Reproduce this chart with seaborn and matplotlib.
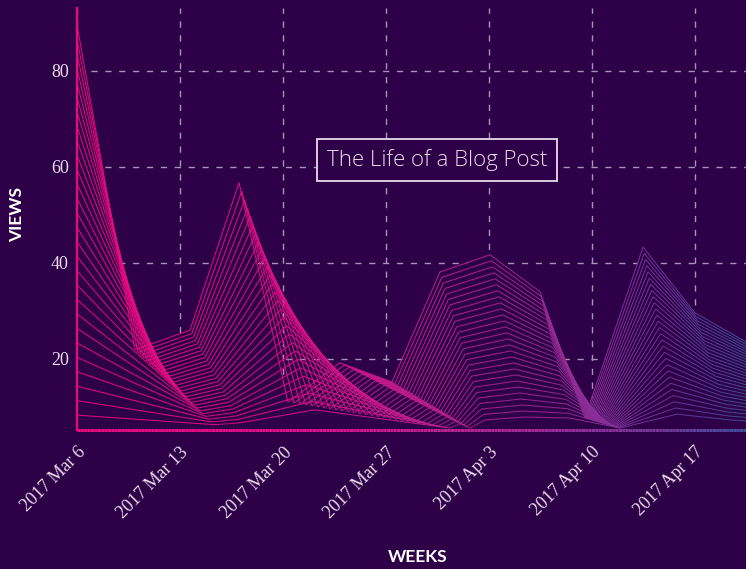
import numpy as np
import pandas as pd
import matplotlib
matplotlib.use("Agg")
import matplotlib.pyplot as plt
import matplotlib.dates as mdates
import seaborn as sns
from matplotlib.collections import LineCollection
from matplotlib.colors import LinearSegmentedColormap

# ---------------- data ----------------
start = pd.Timestamp("2017-03-06")
# outermost line of the family (days after Mar 6, views)
top_days = [0.0, 3.94, 7.68, 11.01, 14.34, 17.87, 21.41, 24.67, 28.07, 31.47, 34.52, 38.47, 42.0, 46.42]
top_views = [89.6, 21.9, 26.0, 56.7, 11.0, 19.2, 15.2, 38.1, 41.7, 34.0, 7.7, 43.3, 29.6, 21.9]
# innermost line of the family
bottom_days = [0.0, 9.38, 11.08, 16.17, 25.35, 26.03, 26.71, 27.73, 30.45, 33.5, 36.9, 40.78, 44.38, 48.46]
bottom_views = [8.3, 6.3, 6.7, 9.4, 5.6, 6.5, 5.6, 7.3, 7.9, 7.7, 5.6, 8.5, 7.3, 6.5]
n_lines = 28

week_labels = ["2017 Mar 6", "2017 Mar 13", "2017 Mar 20", "2017 Mar 27",
               "2017 Apr 3", "2017 Apr 10", "2017 Apr 17"]
y_ticks = [20, 40, 60, 80]
title = "The Life of a Blog Post"

# ---------------- styling ----------------
BG = "#2d0047"
GRID = "#a596b6"
TXT = "#eadcec"
PINK = "#e8087f"

sns.set_theme(style="dark", rc={"axes.facecolor": BG, "figure.facecolor": BG})

fig = plt.figure(figsize=(7.46, 5.69), dpi=100, facecolor=BG)
ax = fig.add_axes([77 / 746, 139 / 569, 669 / 746, 422 / 569])
ax.set_facecolor(BG)

# build the family of lines (morph from outer to inner line)
rows = []
td = np.array(top_days); tv = np.array(top_views)
bd = np.array(bottom_days); bv = np.array(bottom_views)
for k in range(n_lines):
    t = k / (n_lines - 1)
    d = td + (bd - td) * t
    v = tv + (bv - tv) * t
    for dd, vv in zip(d, v):
        rows.append({"line": k, "date": start + pd.to_timedelta(dd, unit="D"), "views": vv})
df = pd.DataFrame(rows)

sns.lineplot(data=df, x="date", y="views", units="line", estimator=None, sort=False,
             color=PINK, lw=0.7, legend=False, ax=ax, zorder=3)

x0 = mdates.date2num(start)
x1 = x0 + 45.47
ax.set_xlim(x0, x1)
ax.set_ylim(5.2, 93.1)

cmap = LinearSegmentedColormap.from_list(
    "grad", [(0.0, "#ea0a80"), (0.33, "#e0108a"), (0.56, "#b82490"),
             (0.77, "#8c2f98"), (0.9, "#663b98"), (1.0, "#3f509c")])

# recolour each seaborn line with a left-to-right gradient
for line in list(ax.get_lines()):
    xy = line.get_xydata()
    segs, cols = [], []
    for i in range(len(xy) - 1):
        p, q = xy[i], xy[i + 1]
        nsub = 24
        for j in range(nsub):
            a = p + (q - p) * j / nsub
            b = p + (q - p) * (j + 1) / nsub
            segs.append([a, b])
            cols.append(cmap(np.clip(((a[0] + b[0]) / 2 - x0) / (x1 - x0), 0, 1)))
    line.remove()
    lc = LineCollection(segs, colors=cols, linewidths=0.75, alpha=0.95, zorder=3,
                        capstyle="butt")
    ax.add_collection(lc)

# background fill below outer line hides the grid there
top_dates = [start + pd.to_timedelta(d, unit="D") for d in top_days]
ax.fill_between(top_dates, top_views, 0, color=BG, zorder=1.5, lw=0)

# grid
week_dates = [start + pd.Timedelta(days=7 * i) for i in range(len(week_labels))]
ax.set_xticks(week_dates)
ax.set_xticklabels(week_labels)
ax.set_yticks(y_ticks)
ax.grid(True, color=GRID, lw=1.0, ls=(0, (4.5, 5.5)), zorder=1)
ax.set_axisbelow(True)

for lab in ax.get_xticklabels():
    lab.set_rotation(45)
    lab.set_ha("right")
    lab.set_va("top")
    lab.set_rotation_mode("anchor")
    lab.set_fontfamily("Liberation Serif")
    lab.set_fontsize(13)
    lab.set_color(TXT)
for lab in ax.get_yticklabels():
    lab.set_fontfamily("Liberation Serif")
    lab.set_fontsize(13)
    lab.set_color(TXT)
ax.tick_params(axis="both", length=0)
ax.tick_params(axis="x", pad=10)
ax.tick_params(axis="y", pad=6)

# spines
for s in ["top", "right", "bottom"]:
    ax.spines[s].set_visible(False)
ax.spines["left"].set_color(PINK)
ax.spines["left"].set_linewidth(1.6)
ax.spines["left"].set_zorder(5)

# gradient bottom axis
bx = np.linspace(x0, x1, 200)
bsegs = [[(bx[i], 5.2), (bx[i + 1], 5.2)] for i in range(len(bx) - 1)]
bcols = [cmap((bx[i] - x0) / (x1 - x0)) for i in range(len(bx) - 1)]
ax.add_collection(LineCollection(bsegs, colors=bcols, linewidths=2.2, zorder=5,
                                 clip_on=False, capstyle="butt"))

ax.set_ylabel("")
ax.set_xlabel("")
fig.text(17 / 746, 1 - 215 / 569, "VIEWS", rotation=90, ha="center", va="center",
         fontfamily="Lato", fontweight="bold", fontsize=12.5, color="white")
fig.text(418 / 746, 1 - 557 / 569, "WEEKS", ha="center", va="center",
         fontfamily="Lato", fontweight="bold", fontsize=12.5, color="white")

ax.text(0.538, 0.640, title, transform=ax.transAxes, ha="center", va="center",
        fontfamily="Open Sans", fontweight="light", fontsize=16, color=TXT, zorder=6,
        bbox=dict(boxstyle="square,pad=0.45", fc=BG, ec=TXT, lw=1.3))

fig.savefig("out.png", dpi=100, facecolor=BG)
